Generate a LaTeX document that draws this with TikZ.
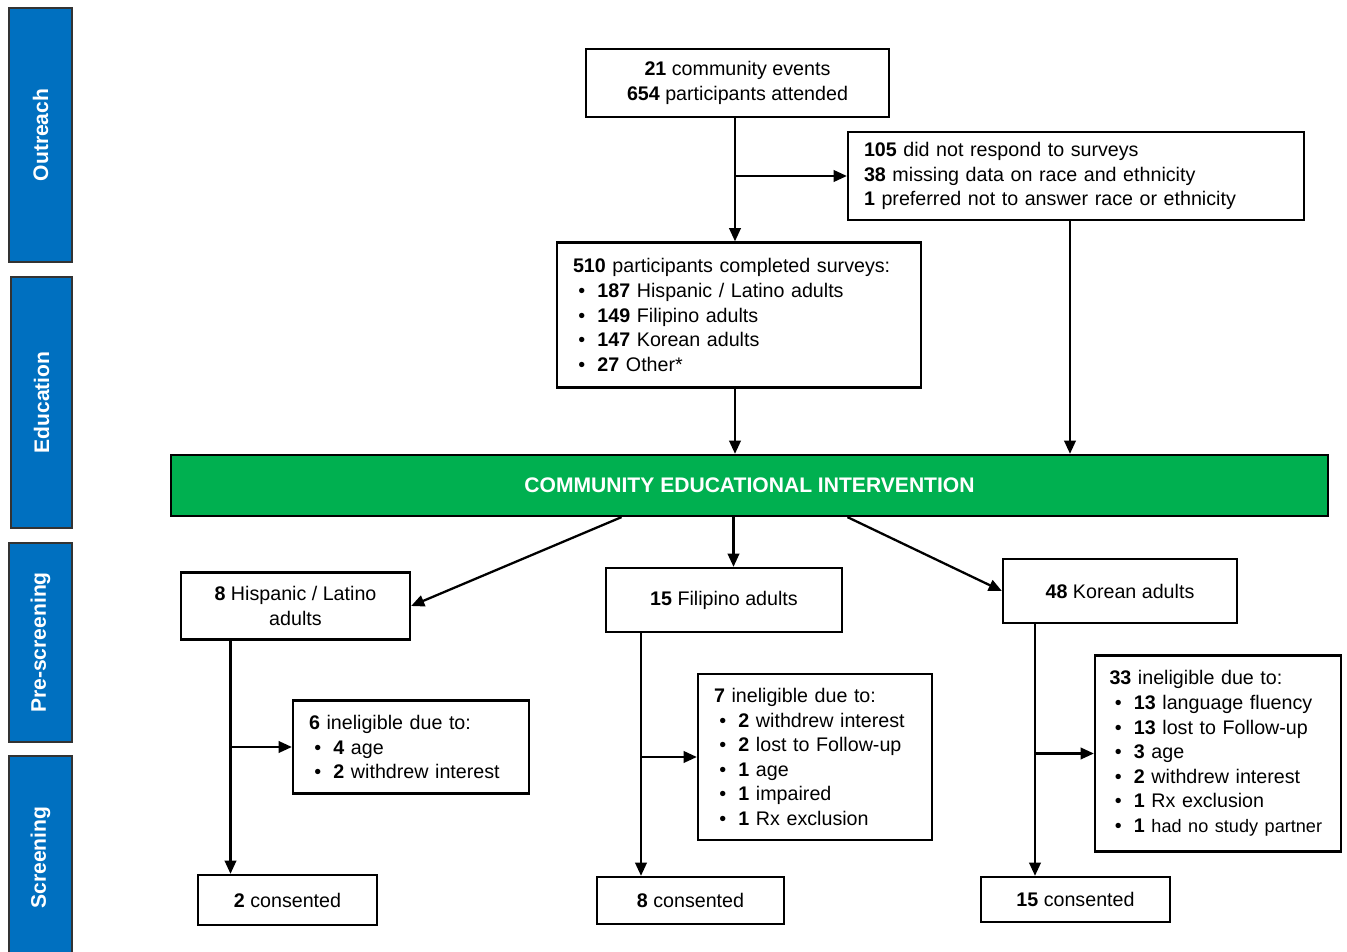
\documentclass[tikz,border=0pt]{standalone}
\usepackage{fontspec}
\setmainfont{Liberation Sans}
\usetikzlibrary{positioning, calc, arrows.meta}

\definecolor{phaseblue}{RGB}{0,112,192}
\definecolor{bannergreen}{RGB}{0,176,80}
\newcommand{\itembul}{\hspace*{3pt}\textbullet\hspace{7pt}}

\begin{document}
\begin{tikzpicture}[
    x=0.02cm, y=-0.02cm,
    % Phase bars
    phase/.style={
      rectangle, draw=black!80, fill=phaseblue, line width=1pt,
      rotate=90, minimum height=1.26cm,
      text=white, font=\fontsize{12}{14}\selectfont\bfseries
    },
    % Flow boxes
    box/.style={
      rectangle, draw=black, fill=white, line width=1.3pt,
      font=\fontsize{11.2}{14}\selectfont, align=center,
      inner xsep=0.32cm
    },
    listbox/.style={box, align=left},
    banner/.style={
      rectangle, draw=black, fill=bannergreen, line width=1.3pt,
      text=white, font=\fontsize{12}{14}\selectfont\bfseries
    },
    flow/.style={draw=black, line width=1.3pt, -{Triangle[length=7.5pt, width=6.5pt]}},
  ]

  \useasboundingbox (0,0) rectangle (1347,952);

  % === Phase bars ===
  \node[phase, minimum width=5.08cm] (outreach) at (40.5,135) {Outreach};
  \node[phase, minimum width=5.02cm, minimum height=1.22cm] (education) at (41.5,402.5) {Education};
  \node[phase, minimum width=3.98cm] (prescreen) at (40.5,642.5) {Pre-screening};
  \node[phase, minimum width=4.06cm] (screen) at (40.5,857.5) {Screening};

  % === Outreach ===
  \node[box, minimum width=6.06cm, minimum height=1.36cm] (events) at (737.5,83)
    {\textbf{21} community events\\\textbf{654} participants attended};
  \node[listbox, text width=8.48cm, minimum height=1.76cm] (noresp) at (1076,176)
    {\textbf{105} did not respond to surveys\\
     \textbf{38} missing data on race and ethnicity\\
     \textbf{1} preferred not to answer race or ethnicity};
  \node[listbox, text width=6.64cm, minimum height=2.9cm] (surveys) at (739,315)
    {\textbf{510} participants completed surveys:\\
     \itembul\textbf{187} Hispanic / Latino adults\\
     \itembul\textbf{149} Filipino adults\\
     \itembul\textbf{147} Korean adults\\
     \itembul\textbf{27} Other*};

  % === Education ===
  \node[banner, minimum width=23.14cm, minimum height=1.22cm] (cei) at (749.5,485.5)
    {COMMUNITY EDUCATIONAL INTERVENTION};

  % === Pre-screening ===
  \node[box, minimum width=4.58cm, minimum height=1.34cm] (hisp) at (295.5,606)
    {\textbf{8} Hispanic / Latino\\adults};
  \node[box, minimum width=4.72cm, minimum height=1.28cm] (fil) at (724,600)
    {\textbf{15} Filipino adults};
  \node[box, minimum width=4.68cm, minimum height=1.28cm] (kor) at (1120,591)
    {\textbf{48} Korean adults};

  \node[listbox, text width=4.08cm, minimum height=1.86cm] (hispout) at (411,747)
    {\textbf{6} ineligible due to:\\
     \itembul\textbf{4} age\\
     \itembul\textbf{2} withdrew interest};
  \node[listbox, text width=4.04cm, minimum height=3.32cm] (filout) at (815,757)
    {\textbf{7} ineligible due to:\\
     \itembul\textbf{2} withdrew interest\\
     \itembul\textbf{2} lost to Follow-up\\
     \itembul\textbf{1} age\\
     \itembul\textbf{1} impaired\\
     \itembul\textbf{1} Rx exclusion};
  \node[listbox, text width=4.34cm, inner xsep=0.29cm, minimum height=3.92cm] (korout) at (1218,753.5)
    {\textbf{33} ineligible due to:\\
     \itembul\textbf{13} language fluency\\
     \itembul\textbf{13} lost to Follow-up\\
     \itembul\textbf{3} age\\
     \itembul\textbf{2} withdrew interest\\
     \itembul\textbf{1} Rx exclusion\\
     \itembul\textbf{1} {\fontsize{10.3}{14}\selectfont had no study partner}};

  % === Screening ===
  \node[box, minimum width=3.58cm, minimum height=1cm] (hispcons) at (287.5,900)
    {\textbf{2} consented};
  \node[box, minimum width=3.74cm, minimum height=0.94cm] (filcons) at (690.5,900.5)
    {\textbf{8} consented};
  \node[box, minimum width=3.78cm, minimum height=0.9cm] (korcons) at (1075.5,899.5)
    {\textbf{15} consented};

  % === Connectors ===
  \coordinate (ev) at ($(events.south)+(-2.5,0)$);
  \draw[flow] (ev) -- (ev |- surveys.north);
  \draw[flow] (ev |- noresp.west) -- (noresp.west);
  \draw[flow] (surveys.south -| ev) -- (cei.north -| ev);
  \draw[flow] ($(noresp.south)+(-6,0)$) coordinate (nv) -- (nv |- cei.north);

  \coordinate (cmid) at ($(cei.south)+(-16,0)$);
  \draw[flow] ($(cei.south)+(-128,0)$) -- (hisp.east);
  \draw[flow] (cmid) -- (cmid |- fil.north);
  \draw[flow] ($(cei.south)+(98,0)$) -- (kor.west);

  \coordinate (hv) at ($(hisp.south)+(-65,0)$);
  \draw[flow] (hv) -- (hv |- hispcons.north);
  \draw[flow] (hv |- hispout.west) -- (hispout.west);

  \coordinate (fv) at ($(fil.south)+(-83,0)$);
  \draw[flow] (fv) -- (fv |- filcons.north);
  \draw[flow] (fv |- filout.west) -- (filout.west);

  \coordinate (kv) at ($(kor.south)+(-85,0)$);
  \draw[flow] (kv) -- (kv |- korcons.north);
  \draw[flow] (kv |- korout.west) -- (korout.west);

\end{tikzpicture}
\end{document}
